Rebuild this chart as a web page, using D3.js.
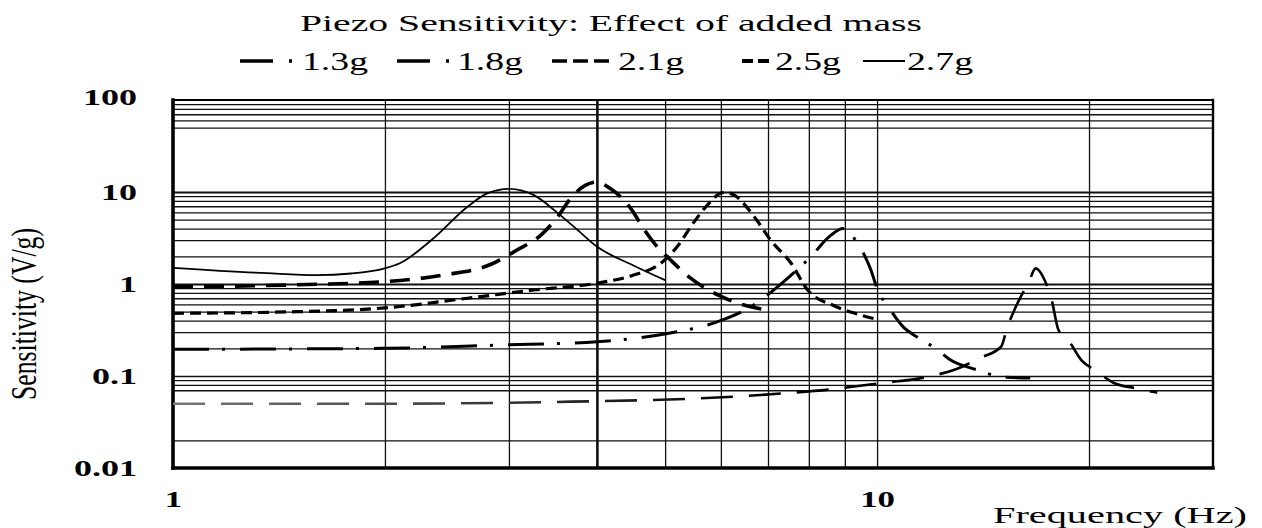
<!DOCTYPE html>
<html>
<head>
<meta charset="utf-8">
<script src="https://cdn.jsdelivr.net/npm/d3@7"></script>
<style>
    body { margin: 0; background: #fff; }
    svg { display: block; font-family: "Liberation Serif", "Times New Roman", serif; }
</style>
</head>
<body>
<div id="chart"></div>
<script>
// series (frequency in Hz, sensitivity in V/g)
const masses = ["1.3g", "1.8g", "2.1g", "2.5g", "2.7g"];

const freq13 = [1, 2, 3.67, 5.62, 7.37, 8.66, 10.1, 11.8, 13.0, 14.0, 15.0, 15.3, 15.6, 16.0, 16.4, 16.8, 17.3, 17.7, 18.1, 18.8, 19.5, 20.4, 21.7, 23.2, 25.0];
const sens13 = [0.05, 0.05, 0.0526, 0.0572, 0.0648, 0.072, 0.0834, 0.098, 0.12, 0.157, 0.208, 0.333, 0.484, 0.728, 1.02, 1.48, 1.1, 0.67, 0.316, 0.229, 0.149, 0.116, 0.084, 0.074, 0.066];

const freq18 = [1, 2, 2.92, 4, 5.04, 5.94, 6.62, 7.37, 8.05, 8.6, 8.95, 9.38, 9.8, 10, 10.45, 10.9, 11.4, 12.1, 12.7, 13.9, 15.0, 16.5];
const sens18 = [0.195, 0.2, 0.217, 0.236, 0.29, 0.39, 0.567, 1.06, 1.98, 3.4, 4.0, 2.77, 1.42, 0.9, 0.52, 0.34, 0.265, 0.2, 0.15, 0.116, 0.098, 0.095];

const freq21 = [1, 1.5, 2, 2.62, 3.25, 4, 4.51, 4.93, 5.2, 5.5, 5.74, 5.99, 6.1, 6.26, 6.69, 7.06, 7.55, 7.97, 8.69, 9.3, 9.9];
const sens21 = [0.48, 0.5, 0.55, 0.7, 0.86, 1.02, 1.25, 1.68, 2.54, 4.76, 7.2, 9.67, 9.9, 9.3, 5.4, 3.0, 1.68, 0.86, 0.58, 0.48, 0.42];

const freq25 = [1, 1.5, 2, 2.42, 2.83, 3.08, 3.33, 3.52, 3.67, 3.85, 4.0, 4.18, 4.47, 4.66, 4.87, 5.09, 5.44, 5.94, 6.47, 7.0];
const sens25 = [0.93, 0.98, 1.06, 1.25, 1.64, 2.34, 3.4, 5.4, 8.5, 11.8, 12.8, 10.9, 6.6, 4.0, 2.55, 1.82, 1.15, 0.76, 0.59, 0.52];

const freq27 = [1, 1.36, 1.6, 1.79, 2, 2.1, 2.34, 2.62, 2.79, 3.0, 3.25, 3.52, 3.75, 4.0, 4.5, 5.0];
const sens27 = [1.5, 1.31, 1.25, 1.3, 1.48, 1.68, 3.1, 6.9, 9.6, 10.8, 9.3, 5.9, 3.9, 2.55, 1.6, 1.1];

// axis ticks and grid
const xTicks = [1, 10];
const yTicks = [0.01, 0.1, 1, 10, 100];
const xGrid = [2, 3, 4, 5, 6, 7, 8, 9, 10, 20];
const yGrid = [0.02, 0.07, 0.08, 0.09, 0.1, 0.2, 0.3, 0.4, 0.5, 0.6, 0.7, 0.8, 0.9, 1,
               2, 3, 4, 5, 6, 7, 8, 9, 10, 50, 60, 70, 80, 90];

const width = 1262, height = 528;
const plot = {left: 173, right: 1213, top: 100, bottom: 468};

const svg = d3.select("#chart").append("svg")
    .attr("width", width)
    .attr("height", height);

const x = d3.scaleLog().domain([1, 30]).range([plot.left, plot.right]);
const y = d3.scaleLog().domain([0.01, 100]).range([plot.bottom, plot.top]);

// the picture is stretched sideways, so stretch the text the same way
function stretch(sel, k) {
    sel.each(function() {
        const w = this.getComputedTextLength();
        d3.select(this).attr("textLength", w * k).attr("lengthAdjust", "spacingAndGlyphs");
    });
}

// vertical grid
const gx = svg.append("g")
    .attr("transform", `translate(0,${plot.bottom})`)
    .call(d3.axisBottom(x).tickValues(xGrid).tickSize(-(plot.bottom - plot.top)).tickFormat(""));
gx.select(".domain").remove();
gx.selectAll("line")
    .attr("stroke", "#111")
    .attr("stroke-width", d => d === 4 ? 2.6 : 1.3);

// horizontal grid
const gy = svg.append("g")
    .attr("transform", `translate(${plot.left},0)`)
    .call(d3.axisLeft(y).tickValues(yGrid).tickSize(-(plot.right - plot.left)).tickFormat(""));
gy.select(".domain").remove();
gy.selectAll("line")
    .attr("stroke", "#111")
    .attr("stroke-width", d => (d === 1 || d === 10) ? 2.2 : 1.3);

// frame
const frame = [
    {x1: plot.left, y1: plot.top, x2: plot.left, y2: plot.bottom, w: 3.6},
    {x1: plot.left, y1: plot.bottom, x2: plot.right, y2: plot.bottom, w: 3.4},
    {x1: plot.left, y1: plot.top, x2: plot.right, y2: plot.top, w: 2},
    {x1: plot.right, y1: plot.top, x2: plot.right, y2: plot.bottom, w: 2.4}
];
svg.append("g").selectAll("line").data(frame).join("line")
    .attr("x1", d => d.x1).attr("y1", d => d.y1)
    .attr("x2", d => d.x2).attr("y2", d => d.y2)
    .attr("stroke", "#000")
    .attr("stroke-width", d => d.w)
    .attr("stroke-linecap", "square");

// left part of the 1.3g line is paler in the picture
const defs = svg.append("defs");
const grad = defs.append("linearGradient")
    .attr("id", "fade13")
    .attr("gradientUnits", "userSpaceOnUse")
    .attr("x1", plot.left).attr("x2", 760).attr("y1", 0).attr("y2", 0);
grad.append("stop").attr("offset", 0).attr("stop-color", "#777");
grad.append("stop").attr("offset", 1).attr("stop-color", "#000");

const series = [
    {name: masses[0], f: freq13, s: sens13, dash: "32,16", w: 2.6, color: "url(#fade13)"},
    {name: masses[1], f: freq18, s: sens18, dash: "36,13,3,15", w: 3, color: "#000"},
    {name: masses[2], f: freq21, s: sens21, dash: "11,6", w: 3.2, color: "#000"},
    {name: masses[3], f: freq25, s: sens25, dash: "20,11", w: 3.6, color: "#000"},
    {name: masses[4], f: freq27, s: sens27, dash: null, w: 1.8, color: "#000"}
];

const line = d3.line()
    .x(d => x(d[0]))
    .y(d => y(d[1]))
    .curve(d3.curveMonotoneX);

svg.append("g").selectAll("path").data(series).join("path")
    .attr("d", d => line(d.f.map((f, i) => [f, d.s[i]])))
    .attr("fill", "none")
    .attr("stroke", d => d.color)
    .attr("stroke-width", d => d.w)
    .attr("stroke-dasharray", d => d.dash);

// y tick labels
const yAxis = svg.append("g")
    .attr("transform", `translate(${plot.left},0)`)
    .call(d3.axisLeft(y).tickValues(yTicks).tickSize(0).tickFormat(d => d >= 1 ? d3.format("d")(d) : String(d)));
yAxis.select(".domain").remove();
yAxis.selectAll("text")
    .attr("x", -36)
    .attr("dy", d => d === 100 ? "0.2em" : "0.33em")
    .attr("font-family", "Liberation Serif, serif")
    .attr("font-size", 24)
    .attr("font-weight", "bold")
    .attr("fill", "#000")
    .call(stretch, 1.5);

// x tick labels
const xAxis = svg.append("g")
    .attr("transform", `translate(0,${plot.bottom})`)
    .call(d3.axisBottom(x).tickValues(xTicks).tickSize(0).tickFormat(d3.format("d")));
xAxis.select(".domain").remove();
xAxis.selectAll("text")
    .attr("y", 22)
    .attr("font-family", "Liberation Serif, serif")
    .attr("font-size", 24)
    .attr("font-weight", "bold")
    .attr("fill", "#000")
    .call(stretch, 1.45);

// titles
svg.append("text")
    .attr("x", 611).attr("y", 31)
    .attr("text-anchor", "middle")
    .attr("font-size", 24)
    .attr("textLength", 622)
    .attr("lengthAdjust", "spacingAndGlyphs")
    .text("Piezo Sensitivity: Effect of added mass");

svg.append("text")
    .attr("x", 993).attr("y", 523)
    .attr("font-size", 24)
    .attr("textLength", 254)
    .attr("lengthAdjust", "spacingAndGlyphs")
    .text("Frequency (Hz)");

svg.append("g")
    .attr("transform", "translate(36,314) scale(1.45,1) rotate(-90)")
    .append("text")
    .attr("text-anchor", "middle")
    .attr("font-size", 24)
    .attr("textLength", 172)
    .attr("lengthAdjust", "spacingAndGlyphs")
    .text("Sensitivity (V/g)");

// legend (symbols drawn as they appear in the picture)
const legendItems = [
    {x0: 240, len: 52, dash: "33,16,3,100", w: 3.6, tx: 302},
    {x0: 397, len: 52, dash: "33,16,3,100", w: 3.6, tx: 457},
    {x0: 552, len: 58, dash: "15,6", w: 3.6, tx: 618},
    {x0: 742, len: 28, dash: "11,5", w: 3.8, tx: 775},
    {x0: 863, len: 42, dash: null, w: 2, tx: 907}
];
const leg = svg.append("g").selectAll("g").data(legendItems).join("g");
leg.append("line")
    .attr("x1", d => d.x0).attr("x2", d => d.x0 + d.len)
    .attr("y1", 61).attr("y2", 61)
    .attr("stroke", "#000")
    .attr("stroke-width", d => d.w)
    .attr("stroke-dasharray", d => d.dash);
leg.append("text")
    .attr("x", d => d.tx).attr("y", 70)
    .attr("font-size", 26)
    .text((d, i) => masses[i])
    .call(stretch, 1.45);
</script>
</body>
</html>
